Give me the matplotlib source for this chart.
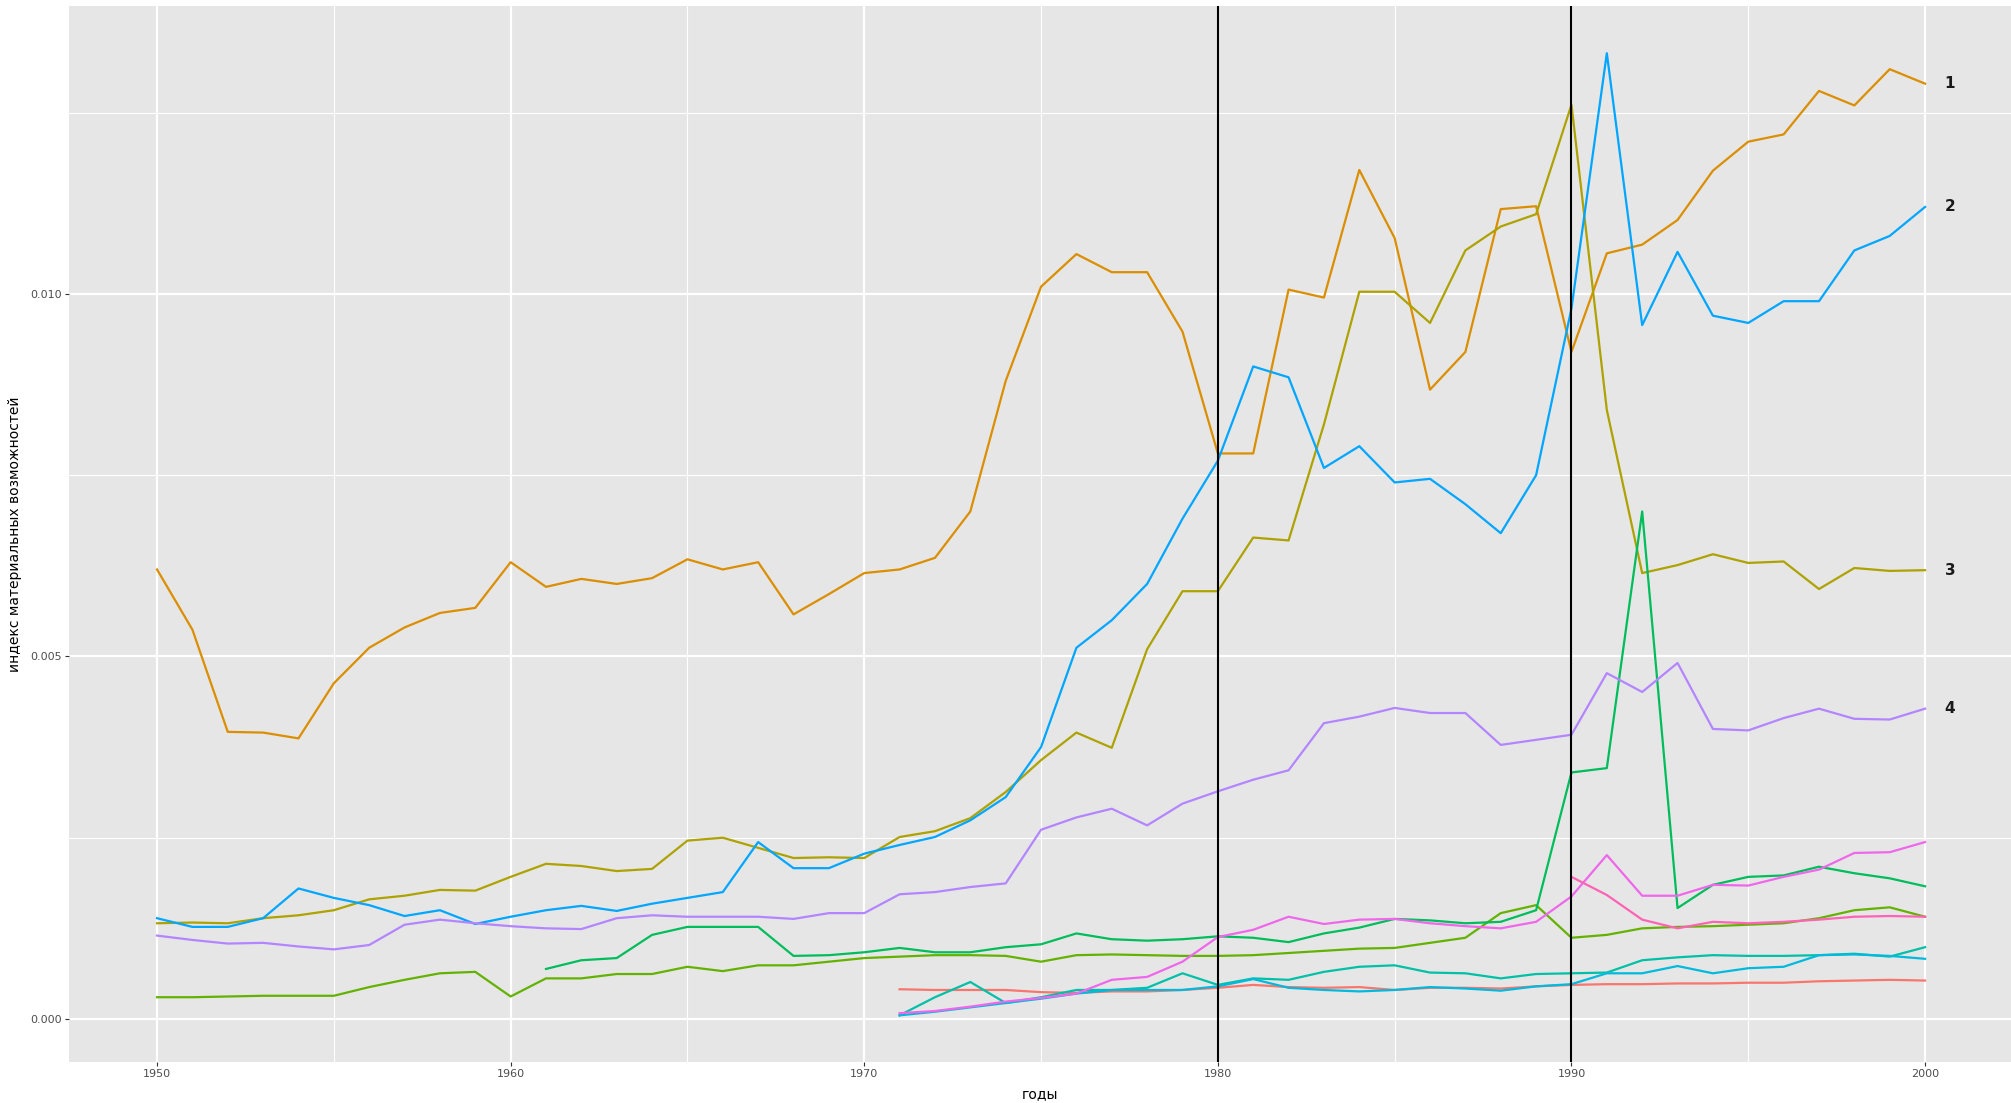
import matplotlib
matplotlib.use("Agg")
import matplotlib.pyplot as plt
from matplotlib.ticker import MultipleLocator

# ---- data ----
years_all = list(range(1950, 2001))
years_61 = list(range(1961, 2001))
years_71 = list(range(1971, 2001))
years_90 = list(range(1990, 2001))

s1_orange = [0.0062, 0.00537, 0.00396, 0.00395, 0.00387, 0.00463, 0.00512, 0.0054, 0.0056, 0.00567,
             0.0063, 0.00596, 0.00607, 0.0060, 0.00608, 0.00634, 0.0062, 0.0063, 0.00558, 0.00586,
             0.00615, 0.0062, 0.00636, 0.0070, 0.0088, 0.0101, 0.01055, 0.0103, 0.0103, 0.00948,
             0.0078, 0.0078, 0.01006, 0.00995, 0.01171, 0.01077, 0.00868, 0.0092, 0.01117, 0.01121,
             0.0092, 0.01056, 0.01068, 0.01102, 0.0117, 0.0121, 0.0122, 0.0128, 0.0126, 0.0131, 0.0129]

s2_blue = [0.00139, 0.00127, 0.00127, 0.00139, 0.0018, 0.00167, 0.00157, 0.00142, 0.0015, 0.00131,
           0.00141, 0.0015, 0.00156, 0.00149, 0.00159, 0.00167, 0.00175, 0.00244, 0.00208, 0.00208,
           0.00228, 0.0024, 0.00251, 0.00274, 0.00306, 0.00375, 0.00512, 0.0055, 0.0060, 0.0069,
           0.0077, 0.0090, 0.00885, 0.0076, 0.0079, 0.0074, 0.00745, 0.0071, 0.0067, 0.0075,
           0.0098, 0.01332, 0.00957, 0.01058, 0.0097, 0.0096, 0.0099, 0.0099, 0.0106, 0.0108, 0.0112]

s3_olive = [0.00132, 0.00133, 0.00132, 0.00139, 0.00143, 0.0015, 0.00165, 0.0017, 0.00178, 0.00177,
            0.00196, 0.00214, 0.00211, 0.00204, 0.00207, 0.00246, 0.0025, 0.00236, 0.00222, 0.00223,
            0.00222, 0.00251, 0.00259, 0.00277, 0.00313, 0.00357, 0.00395, 0.00374, 0.0051, 0.0059,
            0.0059, 0.00664, 0.0066, 0.0082, 0.01003, 0.01003, 0.0096, 0.0106, 0.01093, 0.0111,
            0.01261, 0.0084, 0.00615, 0.00626, 0.00641, 0.00629, 0.00631, 0.00593, 0.00622, 0.00618, 0.00619]

s4_lavender = [0.00115, 0.00109, 0.00104, 0.00105, 0.0010, 0.00096, 0.00102, 0.0013, 0.00137, 0.00132,
               0.00128, 0.00125, 0.00124, 0.00139, 0.00143, 0.00141, 0.00141, 0.00141, 0.00138, 0.00146,
               0.00146, 0.00172, 0.00175, 0.00182, 0.00187, 0.00261, 0.00278, 0.0029, 0.00267, 0.00297,
               0.00314, 0.0033, 0.00343, 0.00408, 0.00417, 0.00429, 0.00422, 0.00422, 0.00378, 0.00385,
               0.00392, 0.00477, 0.00451, 0.00491, 0.0040, 0.00398, 0.00415, 0.00428, 0.00414, 0.00413, 0.00428]

s_green_low = [0.0003, 0.0003, 0.00031, 0.00032, 0.00032, 0.00032, 0.00044, 0.00054, 0.00063, 0.00065,
               0.00031, 0.00056, 0.00056, 0.00062, 0.00062, 0.00072, 0.00066, 0.00074, 0.00074, 0.00079,
               0.00084, 0.00086, 0.00088, 0.00088, 0.00087, 0.00079, 0.00088, 0.00089, 0.00088, 0.00087,
               0.00087, 0.00088, 0.00091, 0.00094, 0.00097, 0.00098, 0.00105, 0.00112, 0.00146, 0.00157,
               0.00112, 0.00116, 0.00125, 0.00127, 0.00128, 0.0013, 0.00132, 0.00139, 0.0015, 0.00154, 0.00141]

s_green_spike = [0.00069, 0.00081, 0.00084, 0.00116, 0.00127, 0.00127, 0.00127, 0.00087, 0.00088, 0.00092,
                 0.00098, 0.00092, 0.00092, 0.00099, 0.00103, 0.00118, 0.0011, 0.00108, 0.0011, 0.00114,
                 0.00112, 0.00106, 0.00118, 0.00126, 0.00138, 0.00136, 0.00132, 0.00134, 0.0015, 0.0034,
                 0.00346, 0.0070, 0.00153, 0.00185, 0.00196, 0.00198, 0.0021, 0.00201, 0.00194, 0.00183]

s_red = [0.00041, 0.0004, 0.0004, 0.0004, 0.00037, 0.00036, 0.00038, 0.00038, 0.0004, 0.00043,
         0.00047, 0.00044, 0.00043, 0.00044, 0.0004, 0.00043, 0.00043, 0.00042, 0.00045, 0.00047,
         0.00048, 0.00048, 0.00049, 0.00049, 0.0005, 0.0005, 0.00052, 0.00053, 0.00054, 0.00053]

s_teal = [0.00005, 0.0003, 0.00051, 0.00022, 0.0003, 0.0004, 0.0004, 0.00043, 0.00063, 0.00047,
          0.00056, 0.00054, 0.00065, 0.00072, 0.00074, 0.00064, 0.00063, 0.00056, 0.00062, 0.00063,
          0.00064, 0.00081, 0.00085, 0.00088, 0.00087, 0.00087, 0.00088, 0.0009, 0.00086, 0.00099]

s_cyan = [0.00005, 0.0001, 0.00016, 0.00022, 0.00028, 0.00035, 0.0004, 0.0004, 0.0004, 0.00045,
          0.00055, 0.00043, 0.0004, 0.00038, 0.0004, 0.00044, 0.00042, 0.00039, 0.00045, 0.00048,
          0.00063, 0.00063, 0.00073, 0.00063, 0.0007, 0.00072, 0.00088, 0.00089, 0.00087, 0.00083]

s_magenta = [0.00008, 0.00011, 0.00017, 0.00024, 0.00029, 0.00035, 0.00054, 0.00058, 0.00079, 0.00113,
             0.00123, 0.00141, 0.00131, 0.00137, 0.00138, 0.00132, 0.00128, 0.00125, 0.00134, 0.00169,
             0.00226, 0.0017, 0.0017, 0.00185, 0.00184, 0.00196, 0.00206, 0.00229, 0.0023, 0.00244]

s_pink = [0.00196, 0.00171, 0.00137, 0.00125, 0.00134, 0.00132, 0.00134, 0.00137, 0.00141, 0.00142, 0.00141]

series = [
    (years_71, s_red, '#F8766D'),
    (years_all, s1_orange, '#DB8E00'),
    (years_all, s3_olive, '#AEA200'),
    (years_all, s_green_low, '#64B200'),
    (years_61, s_green_spike, '#00BD5C'),
    (years_71, s_teal, '#00C1A7'),
    (years_71, s_cyan, '#00BADE'),
    (years_all, s2_blue, '#00A6FF'),
    (years_all, s4_lavender, '#B385FF'),
    (years_71, s_magenta, '#EF67EB'),
    (years_90, s_pink, '#FF63B6'),
]

end_labels = ['1', '2', '3', '4']
end_values = [s1_orange[-1], s2_blue[-1], s3_olive[-1], s4_lavender[-1]]
vlines = [1980, 1990]

# ---- figure ----
fig = plt.figure(figsize=(20.11, 11.03), dpi=100)
ax = fig.add_axes([0.0343, 0.0372, 0.9657, 0.9574])
ax.set_facecolor('#E6E6E6')

ax.set_xlim(1947.51, 2002.43)
ax.set_ylim(-0.000593, 0.013972)

ax.xaxis.set_major_locator(MultipleLocator(10))
ax.xaxis.set_minor_locator(MultipleLocator(5))
ax.yaxis.set_major_locator(MultipleLocator(0.005))
ax.yaxis.set_minor_locator(MultipleLocator(0.0025))
ax.grid(which='major', color='white', linewidth=1.6)
ax.grid(which='minor', color='white', linewidth=0.8)
ax.set_axisbelow(True)
for sp in ax.spines.values():
    sp.set_visible(False)

ax.yaxis.set_major_formatter(matplotlib.ticker.FuncFormatter(lambda v, p: '%.3f' % v))
ax.tick_params(which='major', length=3, color='#333333', labelsize=8, labelcolor='#4D4D4D', pad=2)
ax.tick_params(which='minor', length=0)

for xs, ys, col in series:
    ax.plot(xs, ys, color=col, linewidth=1.6, solid_joinstyle='round')

for v in vlines:
    ax.axvline(v, color='black', linewidth=1.5)

for lab, val in zip(end_labels, end_values):
    ax.text(2000.7, val, lab, ha='center', va='center', fontsize=11, fontweight='bold', color='#1A1A1A')

ax.set_xlabel('годы', fontsize=10, labelpad=6)
ax.set_ylabel('индекс материальных возможностей', fontsize=10, labelpad=6)

fig.savefig('out.png', dpi=100)
